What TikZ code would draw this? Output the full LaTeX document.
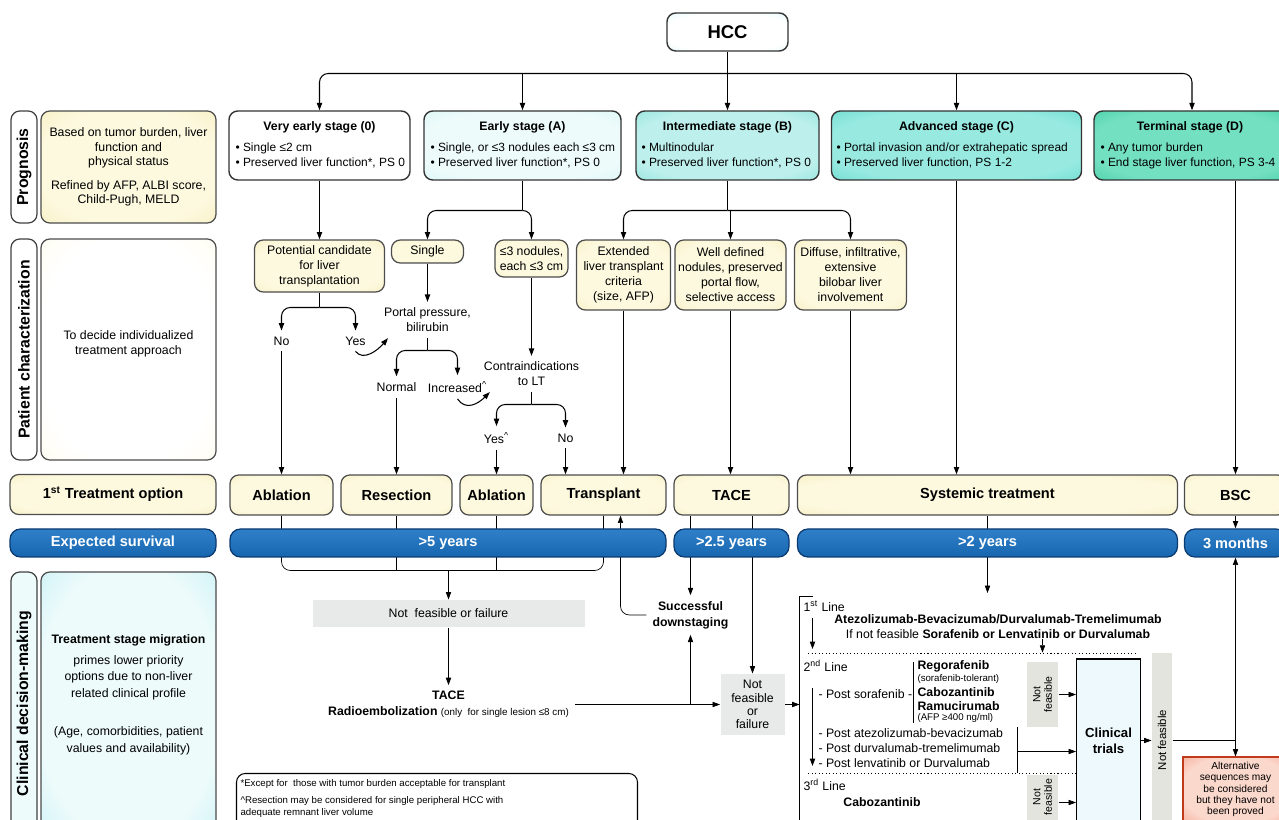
\documentclass[tikz,border=0pt]{standalone}
\usepackage{fontspec}
\setmainfont{Liberation Sans}
\usetikzlibrary{arrows.meta,backgrounds,calc}

\definecolor{cream}{HTML}{FDF9DF}
\definecolor{creamdark}{HTML}{F0E4A6}
\definecolor{barblue}{HTML}{1872C2}
\definecolor{barline}{HTML}{0B3A70}
\definecolor{aqua0}{HTML}{EEFBFB}
\definecolor{aqua1}{HTML}{C8F3F2}
\definecolor{aquaB}{HTML}{BDF0EC}
\definecolor{aqua2}{HTML}{6FD8CF}
\definecolor{aquaC}{HTML}{98EAE1}
\definecolor{aqua3}{HTML}{45CFC0}
\definecolor{teal4}{HTML}{1FC090}
\definecolor{teal5}{HTML}{74E0C2}
\definecolor{greybox}{HTML}{E8E9E9}
\definecolor{greytall}{HTML}{E4E4DE}
\definecolor{trialblue}{HTML}{EEF9FD}
\definecolor{salmon}{HTML}{EE7E60}
\definecolor{pink}{HTML}{FBD8CC}
\definecolor{redline}{HTML}{C23A1C}
\definecolor{cdm}{HTML}{A8E8F2}
\colorlet{glowin}{white}
\colorlet{glowout}{cream}

%soft glow: inner colour in the middle, outer colour only at the border
\pgfdeclareradialshading[glowin,glowout]{glow}{\pgfpoint{0bp}{0bp}}{color(0bp)=(glowin); color(26bp)=(glowin); color(50bp)=(glowout); color(80bp)=(glowout)}

\tikzset{
	wh/.style 2 args={minimum width={#1*0.02cm},minimum height={#2*0.02cm}},
	glw/.style 2 args={/utils/exec={\colorlet{glowin}{#1}\colorlet{glowout}{#2}}, shade, shading=glow},
	txt/.style={font=\fontsize{7}{8.5}\selectfont},
	hd/.style={font=\fontsize{7}{8.5}\selectfont\bfseries},
	sm/.style={font=\fontsize{5.5}{6.6}\selectfont},
	lbl/.style={align=center, outer sep=3.5pt},
	bul/.style={anchor=west, align=left, font=\fontsize{6.8}{8.5}\selectfont},
	stg/.style={draw=black!80, line width=0.8pt, rounded corners=5pt},
	cel/.style={draw=black!70, line width=0.7pt, rounded corners=5pt, glw={cream}{creamdark}, align=center},
	trt/.style={cel, font=\fontsize{8.3}{10}\selectfont\bfseries},
	sidetab/.style={draw=black!75, line width=0.7pt, rounded corners=5pt, fill=white, rotate=90, font=\fontsize{9}{10}\selectfont\bfseries},
	sbar/.style={draw=barline, line width=0.7pt, rounded corners=6pt, top color=barblue!90!white, bottom color=barblue!90!black, text=white, font=\fontsize{8.3}{10}\selectfont\bfseries},
	gry/.style={fill=greybox, align=center},
	gryt/.style={fill=greytall},
	vtxt/.style={rotate=90, align=center, font=\fontsize{6}{6.5}\selectfont},
}

\begin{document}
\begin{tikzpicture}[x=0.02cm, y=-0.02cm, line width=0.6pt, >={Triangle[length=4.2pt,width=3pt]}, every node/.style={inner sep=0pt, txt}]
	\useasboundingbox (0,0) rectangle (1279,820);

	%HCC and stages
	\node[stg, glw={white}{aqua1}, wh={121}{38}, font=\fontsize{10.5}{12}\selectfont\bfseries] (hcc) at (727.5,32) {HCC};
	\node[stg, fill=white, wh={181}{69}] (s0) at (319.5,145.5) {};
	\node[stg, glw={aqua0}{aqua1}, wh={197}{69}] (sA) at (522.5,145.5) {};
	\node[stg, glw={aquaB}{aqua2}, wh={183}{69}] (sB) at (727.5,145.5) {};
	\node[stg, glw={aquaC}{aqua3}, wh={250}{69}] (sC) at (956.5,145.5) {};
	\node[stg, glw={teal5}{teal4}, wh={196}{69}] (sD) at (1192,145.5) {};
	\node[hd] (s0h) at (319.5,127) {Very early stage (0)};
	\node[hd] (sAh) at (522.5,127) {Early stage (A)};
	\node[hd] (sBh) at (727.5,127) {Intermediate stage (B)};
	\node[hd] (sCh) at (956.5,127) {Advanced stage (C)};
	\node[hd] (sDh) at (1190,127) {Terminal stage (D)};
	\node[bul] (s0b) at (235,155.5) {• Single ≤2 cm\\• Preserved liver function*, PS 0};
	\node[bul] (sAb) at (430,155.5) {• Single, or ≤3 nodules each ≤3 cm\\• Preserved liver function*, PS 0};
	\node[bul] (sBb) at (641,155.5) {• Multinodular\\• Preserved liver function*, PS 0};
	\node[bul] (sCb) at (836,155.5) {• Portal invasion and/or extrahepatic spread\\• Preserved liver function, PS 1-2};
	\node[bul] (sDb) at (1100,155.5) {• Any tumor burden\\• End stage liver function, PS 3-4};

	%left column
	\node[sidetab, wh={112}{26}] (tP) at (24,167) {Prognosis};
	\node[cel, wh={175}{112}, font=\fontsize{7}{8.3}\selectfont] (iP) at (128.5,167) {Based on tumor burden, liver\\function and\\physical status\\[5pt]Refined by AFP, ALBI score,\\Child-Pugh, MELD};
	\node[sidetab, wh={221}{26}] (tC) at (24,349.5) {Patient characterization};
	\node[cel, glw={white}{cream}, wh={175}{221}] (iC) at (128.5,349.5) {};
	\node[align=center] (iCt) at (128.5,344) {To decide individualized\\treatment approach};
	\node[trt, wh={206}{40}] (t0) at (113,494.5) {1\textsuperscript{st} Treatment option};
	\node[sbar, wh={206}{28}] (e0) at (113,543) {Expected survival};
	\node[sidetab, wh={263}{26}, fill=aqua0] (tD) at (24,703.5) {Clinical decision-making};
	\node[cel, glw={aqua0}{cdm}, wh={175}{263}] (iD) at (128.5,703.5) {};
	\node[align=center, font=\fontsize{7}{9.6}\selectfont] (iDt) at (128.5,695) {\textbf{Treatment stage migration}\\[2pt]primes lower priority\\options due to non-liver\\related clinical profile\\[12pt](Age, comorbidities, patient\\values and availability)};

	%patient characterization
	\node[cel, wh={130}{52}] (pc) at (319.5,266) {Potential candidate\\for liver\\transplantation};
	\node[cel, wh={72}{23}] (sg) at (427.5,251.5) {Single};
	\node[cel, wh={73}{37}] (n3) at (531.5,258.5) {≤3 nodules,\\each ≤3 cm};
	\node[cel, wh={94}{70}] (ext) at (623.5,275) {Extended\\liver transplant\\criteria\\(size, AFP)};
	\node[cel, wh={111}{70}] (wd) at (730.5,275) {Well defined\\nodules, preserved\\portal flow,\\selective access};
	\node[cel, wh={112}{70}] (dif) at (850.5,275) {Diffuse, infiltrative,\\extensive\\bilobar liver\\involvement};
	\node[lbl] (no1) at (281.5,341) {No};
	\node[lbl] (yes1) at (355.5,341) {Yes};
	\node[lbl] (pp) at (427.5,320) {Portal pressure,\\bilirubin};
	\node[lbl] (nor) at (396.5,387) {Normal};
	\node[lbl] (inc) at (457.5,387) {Increased\textsuperscript{\textasciicircum}};
	\node[lbl] (ci) at (531.5,374) {Contraindications\\to LT};
	\node[lbl] (yes2) at (496.5,438) {Yes\textsuperscript{\textasciicircum}};
	\node[lbl] (no2) at (565.5,438) {No};

	%treatment and survival
	\node[trt, wh={103}{40}] (ab1) at (281.5,495) {Ablation};
	\node[trt, wh={111}{40}] (res) at (396.5,495) {Resection};
	\node[trt, wh={73}{40}] (ab2) at (496.5,495) {Ablation};
	\node[trt, wh={125}{40}] (tx) at (603.5,495) {Transplant};
	\node[trt, wh={115}{40}] (tace) at (731.5,495) {TACE};
	\node[trt, wh={380}{40}] (sys) at (987.5,495) {Systemic treatment};
	\node[trt, wh={102}{40}] (bsc) at (1235.5,495) {BSC};
	\node[sbar, wh={436}{28}] (y5) at (448,543) {>5 years};
	\node[sbar, wh={115}{28}] (y25) at (731.5,543) {>2.5 years};
	\node[sbar, wh={380}{28}] (y2) at (987.5,543) {>2 years};
	\node[sbar, wh={102}{28}] (m3) at (1235.5,543) {3 months};

	%decision making
	\node[gry, wh={272}{27}] (nf1) at (448.5,613.5) {Not~ feasible or failure};
	\node[lbl, font=\fontsize{7}{9}\selectfont] (te) at (448.5,704.5) {\textbf{TACE}\\\textbf{Radioembolization} {\fontsize{5.6}{7}\selectfont(only~ for single lesion ≤8 cm)}};
	\node[gry, wh={64}{61}, font=\fontsize{7}{7.5}\selectfont] (nf2) at (752.5,704.5) {Not\\feasible\\or\\failure};
	\node[lbl, font=\fontsize{7}{9}\selectfont\bfseries] (sd) at (690.5,615) {Successful\\downstaging};

	%systemic lines
	\coordinate (brk) at (799.5,596.5);
	\coordinate (sysin) at (987.5,593);
	\draw (812.5,596.5) -- (brk) -- (799.5,840);
	\node[anchor=west] (l1) at (803,606) {1\textsuperscript{st} Line};
	\node[hd] (l1a) at (998,619) {Atezolizumab-Bevacizumab/Durvalumab-Tremelimumab};
	\node (l1b) at (998,634) {If not feasible \textbf{Sorafenib or Lenvatinib or Durvalumab}};
	\draw[->] (812.5,618) -- (812.5,649);
	\draw[dash pattern=on 0.6pt off 1.4pt] (808,653.5) -- (1138,653.5);
	\node[anchor=west] (l2) at (803,666) {2\textsuperscript{nd} Line};
	\node[anchor=west] (ps) at (818,694) {- Post sorafenib -};
	\draw (913.5,662) -- (913.5,723);
	\node[anchor=west, hd] (rg) at (917,666) {Regorafenib};
	\node[anchor=west, sm] (rgn) at (917,679) {(sorafenib-tolerant)};
	\node[anchor=west, hd] (cb) at (917,692) {Cabozantinib};
	\node[anchor=west, hd] (rm) at (917,706) {Ramucirumab};
	\node[anchor=west, sm] (afp) at (917,718) {(AFP ≥400 ng/ml)};
	\node[anchor=west] (pa) at (818,733) {- Post atezolizumab-bevacizumab};
	\node[anchor=west] (pd) at (818,748) {- Post durvalumab-tremelimumab};
	\node[anchor=west] (pl) at (818,763) {- Post lenvatinib or Durvalumab};
	\draw (1017.5,727) -- (1017.5,773);
	\coordinate (pj) at (1017.5,751.5);
	\draw[->] (812.5,688) -- (812.5,766);
	\draw[dash pattern=on 0.6pt off 1.4pt] (808,773.5) -- (1076,773.5);
	\node[anchor=west] (l3) at (803,785) {3\textsuperscript{rd} Line};
	\node[hd] (cabo) at (882,802) {Cabozantinib};

	\node[gryt, wh={31}{65}] (nfa) at (1042.5,694.5) {};
	\node[vtxt] (nfat) at (nfa) {Not\\feasible};
	\node[gryt, wh={31}{55}] (nfb) at (1042.5,802.5) {};
	\node[vtxt] (nfbt) at (1042.5,797) {Not\\feasible};
	\node[draw, fill=trialblue, wh={64}{163}, align=center, font=\fontsize{7.5}{9}\selectfont\bfseries] (ct) at (1108.5,740.5) {Clinical\\trials};
	\node[gryt, wh={20}{177}] (nfc) at (1162,741.5) {};
	\node[vtxt, font=\fontsize{6.5}{7}\selectfont] (nfct) at (1162,740) {Not feasible};
	\node[draw=redline, glw={pink}{salmon}, wh={107}{65}] (alt) at (1236.5,789.5) {};
	\node[align=center, font=\fontsize{5.8}{6.4}\selectfont] (altt) at (1235.5,789.5) {Alternative\\sequences may\\be considered\\but they have not\\been proved};

	%footnotes
	\draw[rounded corners=5pt] (236.5,773.5) rectangle (637.5,845);
	\node[anchor=north west, align=left, font=\fontsize{5.5}{6.8}\selectfont] (fnt) at (240,779) {*Except for~ those with tumor burden acceptable for transplant\\[3pt]\textasciicircum Resection may be considered for single peripheral HCC with\\adequate remnant liver volume};

	%connectors
	\coordinate (bus) at (727.5,73.5);
	\draw (hcc.south) -- (hcc.south |- bus);
	\draw[->, rounded corners=5pt] (bus) -| (s0.north);
	\draw[->, rounded corners=5pt] (bus) -| (sD.north);
	\draw[->] (bus -| sA.north) -- (sA.north);
	\draw[->] (bus) -- (sB.north);
	\draw[->] (bus -| sC.north) -- (sC.north);

	\draw[->] (s0.south) -- (pc.north);
	\coordinate (eb) at (522.5,210.5);
	\draw (sA.south) -- (eb);
	\draw[->, rounded corners=5pt] (eb) -| (sg.north);
	\draw[->, rounded corners=5pt] (eb) -| (n3.north);
	\coordinate (ib) at (727.5,210.5);
	\draw (sB.south) -- (ib);
	\draw[->, rounded corners=5pt] (ib) -| (ext.north);
	\draw[->, rounded corners=5pt] (ib) -| (dif.north);
	\draw[->] (ib -| wd.north) -- (wd.north);

	\coordinate (pb) at (319.5,307.5);
	\draw (pc.south) -- (pb);
	\draw[->, rounded corners=5pt] (pb) -| (no1.north);
	\draw[->, rounded corners=5pt] (pb) -| (yes1.north);
	\draw[->] (no1.south) -- (ab1.north);
	\draw[->] (yes1.south) .. controls +(8,10) and +(-10,12) .. ($(pp.south west)+(10,0)$);
	\draw[->] (sg.south) -- (pp.north);
	\coordinate (ppb) at (427.5,350.5);
	\draw (pp.south) -- (ppb);
	\draw[->, rounded corners=5pt] (ppb) -| (nor.north);
	\draw[->, rounded corners=5pt] (ppb) -| (inc.north);
	\draw[->] (nor.south) -- (res.north);
	\draw[->] (inc.south) .. controls +(8,12) and +(-12,12) .. ($(ci.south west)+(12,0)$);
	\draw[->] (n3.south) -- (ci.north);
	\coordinate (cib) at (531.5,404.5);
	\draw (ci.south) -- (cib);
	\draw[->, rounded corners=5pt] (cib) -| (yes2.north);
	\draw[->, rounded corners=5pt] (cib) -| (no2.north);
	\draw[->] (yes2.south) -- (ab2.north);
	\draw[->] (no2.south) -- (no2.south |- tx.north);
	\draw[->] (ext.south) -- (ext.south |- tx.north);
	\draw[->] (wd.south) -- (wd.south |- tace.north);
	\draw[->] (dif.south) -- (dif.south |- sys.north);
	\draw[->] (sC.south) -- (sC.south |- sys.north);
	\draw[->] (bsc.north |- sD.south) -- (bsc.north);
	\draw[->] (bsc.south) -- (m3.north);

	\begin{pgfonlayer}{background}
		\coordinate (fb) at (448.5,570.5);
		\draw[rounded corners=5pt] (ab1.south) |- (fb) -| (tx.south);
		\draw (res.south) -- (res.south |- fb);
		\draw (ab2.south) -- (ab2.south |- fb);
		\draw[->] (sd.north |- tace.south) -- (sd.north);
		\draw[->] (nf2.north |- tace.south) -- (nf2.north);
		\draw[->] (sys.south) -- (sysin);
		\draw[->, rounded corners=5pt] (sd.west) -| ([xshift=0.34cm]tx.south);
	\end{pgfonlayer}
	\draw[->] (fb) -- (nf1.north);
	\draw[->] (nf1.south) -- (te.north);
	\draw[->] (te.east) -- (nf2.west);
	\draw[->] (sd.south |- te.east) -- (sd.south);
	\draw[->] (nf2.east) -- (nf2.east -| brk);

	\draw[->, shorten >=5pt] (l1b.south -| nfa.north) -- (nfa.north);
	\draw[->] (nfa.east) -- (nfa.east -| ct.west);
	\draw[->] (pj) -- (pj -| ct.west);
	\draw[->] (nfb.east) -- (nfb.east -| ct.west);
	\draw[->] (ct.east) -- (ct.east -| nfc.west);
	\draw (ct.east -| nfc.east) -- (ct.east -| m3.south);
	\draw[<->] (m3.south) -- (m3.south |- alt.north);
\end{tikzpicture}
\end{document}
